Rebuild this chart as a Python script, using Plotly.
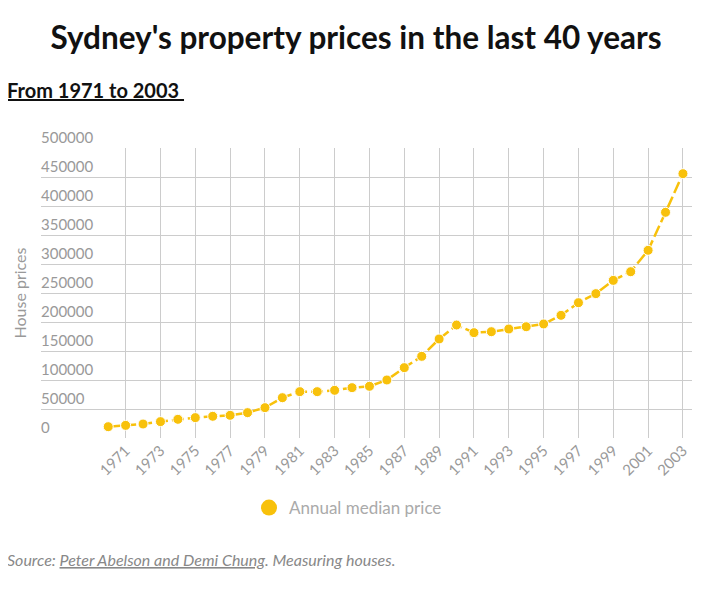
import plotly.graph_objects as go

years = list(range(1970, 2004))
prices = [19500, 21800, 24100, 28200, 32200, 35100, 37400, 39100, 43700, 52300,
          69500, 79900, 79900, 82200, 86800, 89100, 100000, 121300, 140800, 170700,
          194800, 181600, 183300, 187900, 191900, 196600, 211500, 233300, 248900, 271800,
          286700, 323600, 389100, 455700]
x_tick_vals = list(range(1971, 2004, 2))
x_tick_text = [str(y) for y in x_tick_vals]
y_tick_vals = list(range(0, 500001, 50000))
y_tick_text = [str(v) for v in y_tick_vals]

series_name = "Annual median price"
title_text = "Sydney's property prices in the last 40 years"
subtitle_text = "From 1971 to 2003"
source_link = "Peter Abelson and Demi Chung"
source_rest = ". Measuring houses."

YELLOW = "#F8C10B"
GRID = "#cccccc"
FONT = "Lato"

OFF = 8  # page body margin: screen = figure + 8
W, H = 702, 582
# screen-space targets
PL, PR, PT, PB = 41, 692, 148, 438
LBL_X = 41
T_SCREEN = 120

L = LBL_X - OFF - 3
R = W - (PR - OFF)
B = H - (PB - OFF)
T = T_SCREEN - OFF
plot_h = H - T - B
plot_w = W - L - R
dom_top = (PB - PT) / plot_h
dom_left = (PL - OFF - L) / plot_w
y_max = 500000
y2_max = y_max / dom_top

def py(screen_y):
    return (H - B - (screen_y - OFF)) / plot_h

def px(screen_x):
    return (screen_x - OFF - L) / plot_w

fig = go.Figure()
fig.add_trace(go.Scatter(
    x=years, y=prices, mode="lines+markers", showlegend=False,
    line=dict(color=YELLOW, width=2.5, dash="12px,4px"),
    marker=dict(color=YELLOW, size=10, line=dict(color="white", width=1)),
))
fig.add_trace(go.Scatter(
    x=[None], y=[None], mode="markers", name=series_name,
    marker=dict(color=YELLOW, size=20),
))
# carrier for the tick-label axis
fig.add_trace(go.Scatter(x=[None], y=[None], xaxis="x2", yaxis="y2",
                         showlegend=False, hoverinfo="skip"))

fig.update_layout(
    width=W, height=H,
    margin=dict(l=L, r=R, t=T, b=B, autoexpand=False),
    paper_bgcolor="white", plot_bgcolor="rgba(0,0,0,0)",
    font=dict(family=FONT, color="#999999"),
    title=dict(text="<b>" + title_text + "</b>", x=(356 - OFF) / W, xanchor="center",
               y=1 - (38 - OFF) / H, yanchor="middle",
               font=dict(family=FONT, size=31.5, color="#111111")),
    xaxis=dict(range=[1966.14, 2003.52], tickmode="array", tickvals=x_tick_vals,
               ticktext=x_tick_text, tickangle=-45, showgrid=True, gridcolor=GRID,
               gridwidth=1, zeroline=False, showline=False, ticks="", automargin=False,
               anchor="y", domain=[dom_left, 1],
               tickfont=dict(size=15, color="#999999", family=FONT)),
    yaxis=dict(range=[0, y_max], domain=[0, dom_top], tickmode="array",
               tickvals=y_tick_vals, showticklabels=False, showgrid=True,
               gridcolor=GRID, gridwidth=1, anchor="x",
               zeroline=False, showline=False, ticks="", automargin=False,
               title=dict(text="House prices", standoff=9,
                          font=dict(size=16, color="#999999", family=FONT))),
    xaxis2=dict(domain=[0, 1], anchor="y2", visible=False, range=[0, 1]),
    yaxis2=dict(range=[0, y2_max], domain=[0, 1], anchor="x2", tickmode="array",
                tickvals=y_tick_vals, ticktext=y_tick_text, showgrid=False,
                zeroline=False, showline=False, ticks="", automargin=False,
                ticklabelposition="inside top",
                tickfont=dict(size=15, color="#999999", family=FONT)),
    legend=dict(orientation="h", x=px(348), xanchor="center", y=py(508),
                yanchor="middle", font=dict(size=17, color="#aaaaaa", family=FONT)),
    annotations=[
        dict(text="<b><u>" + subtitle_text + "&nbsp;</u></b>", xref="paper", yref="paper",
             x=px(5), y=py(90), xanchor="left", yanchor="middle",
             showarrow=False, font=dict(size=20, color="#111111", family=FONT)),
        dict(text="<i>Source: <u>" + source_link + "</u>" + source_rest + "</i>",
             xref="paper", yref="paper", x=px(5), y=py(559),
             xanchor="left", yanchor="middle", showarrow=False,
             font=dict(size=16, color="#888888", family=FONT)),
    ],
)

fig.write_html("out.html")
